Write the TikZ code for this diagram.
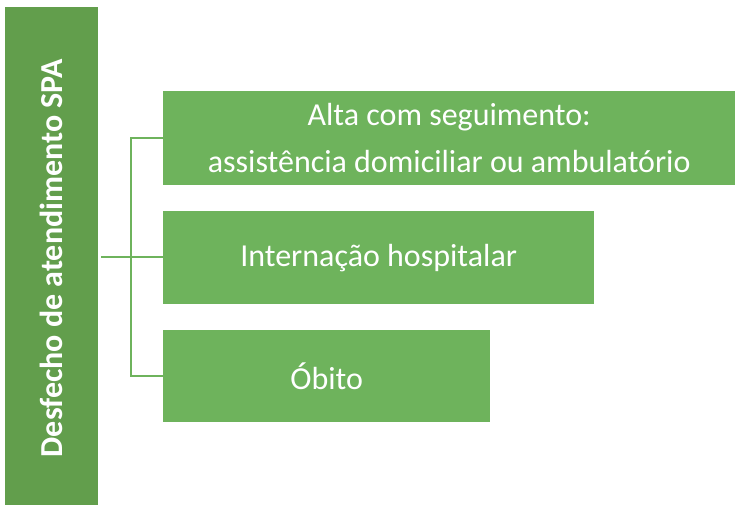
\documentclass[tikz,border=0pt]{standalone}
\usepackage{fontspec}
\setmainfont{Carlito}
\usepackage{tikz}

\definecolor{darkgreen}{RGB}{98,158,76}
\definecolor{boxgreen}{RGB}{110,179,92}

\tikzset{
  outcome/.style={fill=boxgreen,text=white,anchor=north west,inner sep=0pt,
    align=center,font=\fontsize{32}{47}\selectfont},
  branch/.style={draw=boxgreen,line width=1.6pt}
}

\begin{document}
\begin{tikzpicture}[x=1pt,y=1pt]
        \useasboundingbox (0,0) rectangle (735,-505);

        \node[fill=darkgreen,anchor=north west,minimum width=93pt,minimum height=498pt,inner sep=0pt] (spa) at (5,-7) {};
        \node[text=white,rotate=90,font=\bfseries\fontsize{32}{38}\selectfont] (spalabel) at ([yshift=-2pt]spa.center) {Desfecho de atendimento SPA};

        \node[outcome,minimum width=572pt,minimum height=94pt] (alta) at (163,-91)
            {Alta com seguimento:\\assistência domiciliar ou ambulatório};
        \node[outcome,minimum width=431pt,minimum height=93pt] (intern) at (163,-211) {Internação hospitalar};
        \node[outcome,minimum width=327pt,minimum height=92pt] (obito) at (163,-330) {Óbito};

        \coordinate (fork) at (131,-257);
        \draw[branch] ([xshift=3pt]spa.east |- fork) -- (fork);
        \draw[branch] (fork) |- (alta.west);
        \draw[branch] (fork) -- (intern.west |- fork);
        \draw[branch] (fork) |- (obito.west);
    \end{tikzpicture}
\end{document}
